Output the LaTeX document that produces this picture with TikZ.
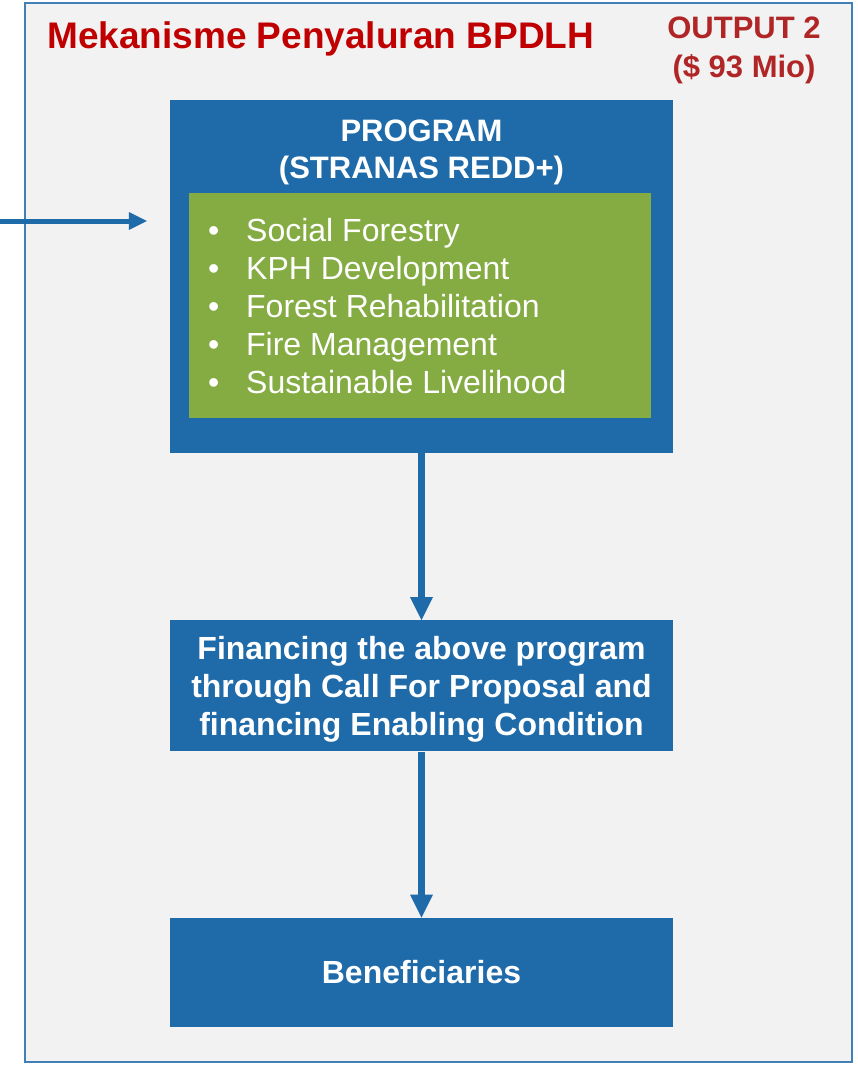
\documentclass[tikz,border=0pt]{standalone}
\usepackage{fontspec}
\setmainfont{Liberation Sans}
\usetikzlibrary{positioning,arrows.meta}

\definecolor{progblue}{RGB}{31,106,168}
\definecolor{listgreen}{RGB}{133,171,67}
\definecolor{panelgrey}{RGB}{242,242,242}
\definecolor{titlered}{RGB}{192,0,0}
\definecolor{outputred}{RGB}{176,38,38}

\tikzset{
  bluebox/.style={fill=progblue, inner sep=0pt, minimum width=503pt},
  boxtext/.style={text=white, font=\fontsize{32}{38}\selectfont\bfseries, align=center},
  flow/.style={color=progblue, line width=7pt, -{Triangle[length=23pt,width=23pt,line width=0pt]}},
  feedarrow/.style={color=progblue, line width=5pt, -{Triangle[length=18pt,width=18pt,line width=0pt]}}
}

\begin{document}
\begin{tikzpicture}
  \useasboundingbox (0pt,0pt) rectangle (858pt,-1066pt);
  \draw[fill=panelgrey, draw=progblue!85, line width=1.5pt] (25pt,-3pt) rectangle (852pt,-1062pt);

  \node (title) [anchor=base west, inner sep=0pt, text=titlered, font=\fontsize{37}{44}\selectfont\bfseries] at (47pt,-48pt) {Mekanisme Penyaluran BPDLH};
  \node (output) [anchor=north, inner sep=0pt, align=center, text=outputred, font=\fontsize{31}{39}\selectfont\bfseries] at (744pt,-17pt) {OUTPUT 2\\(\$ 93 Mio)};

  \node (prog) [bluebox, minimum height=353pt] at (421.5pt,-276.5pt) {};
  \node (progtitle) [boxtext, inner sep=0pt, font=\fontsize{31}{37}\selectfont\bfseries, below=20pt of prog.north] {PROGRAM\\(STRANAS REDD+)};
  \node (green) [fill=listgreen, inner sep=0pt, minimum width=462pt, minimum height=225pt, anchor=north west] at ([xshift=19pt,yshift=-93pt]prog.north west) {};
  \node (items) [anchor=north west, inner sep=0pt, text=white, font=\fontsize{32}{38}\selectfont] at ([xshift=19pt,yshift=-21.5pt]green.north west) {%
    \begin{tabular}{@{}l@{\hspace{27pt}}l@{}}
      \textbullet & Social Forestry\\
      \textbullet & KPH Development\\
      \textbullet & Forest Rehabilitation\\
      \textbullet & Fire Management\\
      \textbullet & Sustainable Livelihood
    \end{tabular}};

  \node (fund) [bluebox, boxtext, text depth=0pt, minimum height=131pt, below=167pt of prog] {Financing the above program\\through Call For Proposal and\\financing Enabling Condition};
  \node (benef) [bluebox, boxtext, minimum height=109pt, below=166pt of fund] {Beneficiaries};

  \coordinate (feed) at (0pt,-221pt);
  \coordinate (feedtip) at ([xshift=-23pt]prog.west |- feed);

  \draw[feedarrow] (feed) -- (feedtip);
  \path[flow]
    (prog) edge (fund)
    (fund) edge (benef);

\end{tikzpicture}
\end{document}
